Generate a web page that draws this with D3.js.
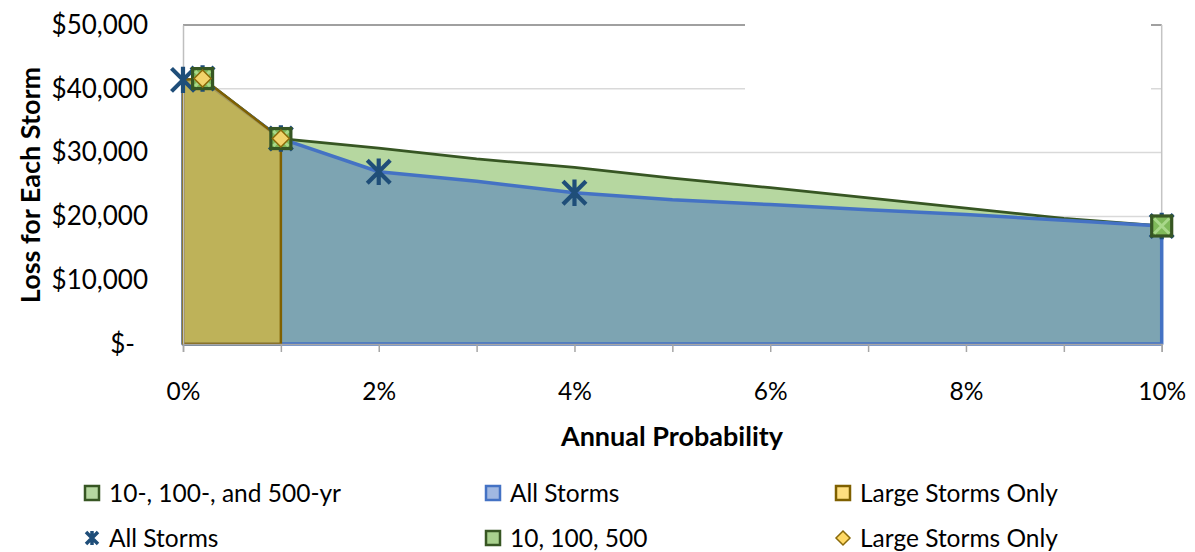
<!DOCTYPE html>
<html><head><meta charset="utf-8">
<script src="https://cdn.jsdelivr.net/npm/d3@7"></script>
<style>body{margin:0;background:#fff}svg{display:block;font-family:Lato,"Open Sans",sans-serif}</style>
</head><body><svg id="c" width="1195" height="552"></svg>
<script>
// ---- data ----
const yTicks = [0, 10000, 20000, 30000, 40000, 50000];
const xTicksMajor = [0, 2, 4, 6, 8, 10];
const xTicksMinor = [0, 1, 2, 3, 4, 5, 6, 7, 8, 9, 10];

// area: 10-, 100-, and 500-yr (probability %, loss)
const greenProb = [0, 0.2, 1, 2, 3, 4, 5, 6, 7, 8, 9, 10];
const greenLoss = [41600, 41600, 32200, 30700, 29000, 27700, 26000, 24500, 22900, 21300, 19700, 18500];
// area: All Storms
const blueProb = [0, 0.2, 1, 2, 3, 4, 5, 6, 7, 8, 9, 10];
const blueLoss = [41400, 41400, 32200, 27000, 25500, 23700, 22600, 21850, 21050, 20300, 19400, 18500];
// area: Large Storms Only
const goldProb = [0, 0.2, 1];
const goldLoss = [41400, 41600, 32200];
// markers: All Storms
const starProb = [0, 0.2, 1, 2, 4, 10];
const starLoss = [41400, 41600, 32200, 27000, 23700, 18500];
// markers: 10, 100, 500
const sqProb = [0.2, 1, 10];
const sqLoss = [41600, 32200, 18500];
// markers: Large Storms Only
const diaProb = [0.2, 1];
const diaLoss = [41600, 32200];

const legendRow1 = ["10-, 100-, and 500-yr", "All Storms", "Large Storms Only"];
const legendRow2 = ["All Storms", "10, 100, 500", "Large Storms Only"];

// ---- layout ----
const svg = d3.select("#c");
const L = 183, R = 1161.7, T = 25, B = 344;
const x = d3.scaleLinear().domain([0, 10]).range([L, R]);
const y = d3.scaleLinear().domain([0, 50000]).range([B, T]);
const zip = (a, b) => a.map((v, i) => [v, b[i]]);

// gridlines
svg.append("g").selectAll("line").data(yTicks.filter(d => d > 0 && d < 50000)).join("line")
  .attr("x1", L).attr("x2", R).attr("y1", d => y(d)).attr("y2", d => y(d))
  .attr("stroke", "#d9d9d9").attr("stroke-width", 1.5);
svg.append("line").attr("x1", L).attr("x2", R).attr("y1", y(50000)).attr("y2", y(50000))
  .attr("stroke", "#a0a0a0").attr("stroke-width", 1.8);
svg.append("line").attr("x1", R).attr("x2", R).attr("y1", y(50000)).attr("y2", B)
  .attr("stroke", "#c4c4c4").attr("stroke-width", 1.5);
// white box covering part of the top gridlines (as in reference)
svg.append("rect").attr("x", 745).attr("y", 10).attr("width", 406).attr("height", 100).attr("fill", "#fff");

// areas
const area = d3.area().x(d => x(d[0])).y0(y(0)).y1(d => y(d[1]));
function poly(data) {
  const pts = data.map(d => [x(d[0]), y(d[1])]);
  return "M" + x(data[0][0]) + "," + y(0) + "L" + pts.join("L") + "L" + x(data[data.length - 1][0]) + "," + y(0) + "Z";
}
const gD = zip(greenProb, greenLoss), bD = zip(blueProb, blueLoss), oD = zip(goldProb, goldLoss);
svg.append("path").attr("d", area(gD)).attr("fill", "#b6d7a0");
svg.append("path").attr("d", d3.line().x(d => x(d[0])).y(d => y(d[1]))(gD.slice(1)))
  .attr("fill", "none").attr("stroke", "#375623").attr("stroke-width", 2.8);
svg.append("path").attr("d", poly(bD)).attr("fill", "rgba(68,114,196,0.5)")
  .attr("stroke", "#4472c4").attr("stroke-width", 3.5).attr("stroke-linejoin", "round");
svg.append("path").attr("d", poly(oD)).attr("fill", "rgba(255,192,0,0.5)")
  .attr("stroke", "#7f6000").attr("stroke-width", 2.5).attr("stroke-linejoin", "round");

// axes
const yAxis = svg.append("g").attr("transform", `translate(${L},0)`)
  .call(d3.axisLeft(y).tickValues(yTicks).tickSize(0).tickPadding(35)
    .tickFormat(d => d === 0 ? "$-" : d3.format("$,")(d)));
yAxis.select(".domain").attr("stroke", "#bfbfbf").attr("stroke-width", 1.5);
yAxis.selectAll("text").attr("font-size", 26).attr("fill", "#000").attr("font-family", "Lato")
  .attr("dx", d => d === 0 ? -13 : 0);

const xMinor = svg.append("g").attr("transform", `translate(0,${B})`)
  .call(d3.axisBottom(x).tickValues(xTicksMinor).tickSize(8).tickFormat(""));
xMinor.select(".domain").attr("stroke", "#a6a6a6").attr("stroke-width", 1.5);
xMinor.selectAll("line").attr("stroke", "#a6a6a6").attr("stroke-width", 1.5);
const xAxis = svg.append("g").attr("transform", `translate(0,${B})`)
  .call(d3.axisBottom(x).tickValues(xTicksMajor).tickSize(0).tickPadding(39).tickFormat(d => d + "%"));
xAxis.select(".domain").remove();
xAxis.selectAll("text").attr("font-size", 24.5).attr("fill", "#000").attr("font-family", "Lato");

// markers
const star = (cx, cy, r) => `M${cx - r},${cy - r}L${cx + r},${cy + r}M${cx - r},${cy + r}L${cx + r},${cy - r}M${cx},${cy - r * 1.15}L${cx},${cy + r * 1.15}`;
svg.append("g").selectAll("path").data(zip(starProb, starLoss)).join("path")
  .attr("d", d => star(x(d[0]), y(d[1]), 11.5)).attr("stroke", "#1f4e79").attr("stroke-width", 4.2).attr("fill", "none");
const sq = svg.append("g").selectAll("g").data(zip(sqProb, sqLoss)).join("g")
  .attr("transform", d => `translate(${x(d[0])},${y(d[1])})`);
sq.append("rect").attr("x", -10).attr("y", -10).attr("width", 20).attr("height", 20)
  .attr("fill", "#7fb95a").attr("stroke", "#375623").attr("stroke-width", 3.2);
sq.append("path").attr("d", "M-7.5,-7.5L7.5,7.5M-7.5,7.5L7.5,-7.5").attr("stroke", "#a9d88a").attr("stroke-width", 3);
svg.append("g").selectAll("path").data(zip(diaProb, diaLoss)).join("path")
  .attr("d", d => { const cx = x(d[0]), cy = y(d[1]); return `M${cx},${cy - 8.5}L${cx + 8.5},${cy}L${cx},${cy + 8.5}L${cx - 8.5},${cy}Z`; })
  .attr("fill", "#f2d36b").attr("stroke", "#8a6a0a").attr("stroke-width", 1.5);

// axis titles
svg.append("text").attr("x", 672).attr("y", 446).attr("text-anchor", "middle")
  .attr("font-size", 27).attr("font-weight", "bold").text("Annual Probability");
svg.append("text").attr("transform", "translate(40,185) rotate(-90)").attr("text-anchor", "middle")
  .attr("font-size", 27).attr("font-weight", "bold").text("Loss for Each Storm");

// legend
const legX = [92, 493, 843], row1 = 493, row2 = 538;
const lg = svg.append("g").attr("font-size", 24.5);
const l1 = [["#b6d7a0", "#375623"], ["#a1b8e1", "#4472c4"], ["#ffdf80", "#7f6000"]];
legendRow1.forEach((t, i) => {
  lg.append("rect").attr("x", legX[i] - 7).attr("y", row1 - 7).attr("width", 14).attr("height", 14)
    .attr("fill", l1[i][0]).attr("stroke", l1[i][1]).attr("stroke-width", 2.5);
  lg.append("text").attr("x", legX[i] + 17).attr("y", row1).attr("dy", "0.35em").text(t);
});
lg.append("path").attr("d", star(legX[0], row2, 6)).attr("stroke", "#1f4e79").attr("stroke-width", 3.5);
lg.append("rect").attr("x", legX[1] - 7).attr("y", row2 - 7).attr("width", 14).attr("height", 14)
  .attr("fill", "#a9d18e").attr("stroke", "#375623").attr("stroke-width", 2.5);
lg.append("path").attr("d", `M${legX[2]},${row2 - 7}L${legX[2] + 7},${row2}L${legX[2]},${row2 + 7}L${legX[2] - 7},${row2}Z`)
  .attr("fill", "#ffd966").attr("stroke", "#8a6a0a").attr("stroke-width", 1.5);
legendRow2.forEach((t, i) => {
  lg.append("text").attr("x", legX[i] + 17).attr("y", row2).attr("dy", "0.35em").text(t);
});
</script></body></html>
